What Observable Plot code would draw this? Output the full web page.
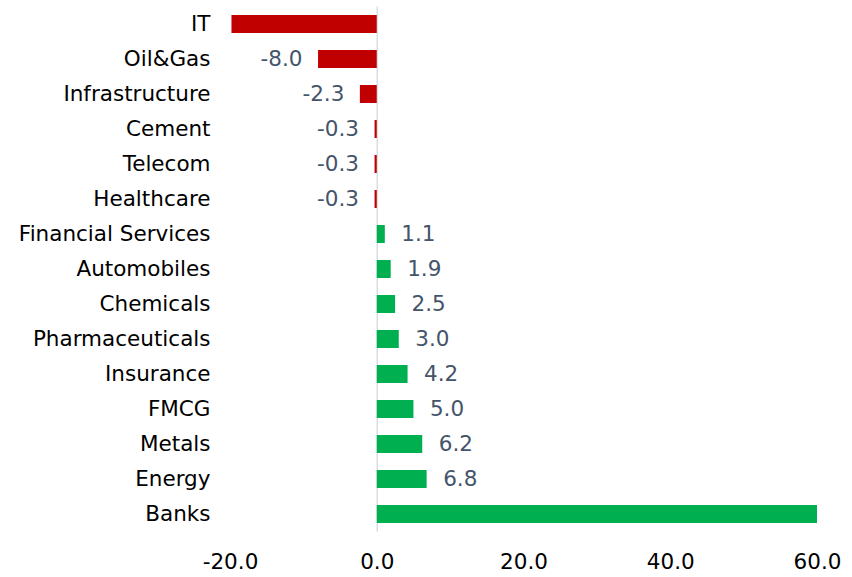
<!DOCTYPE html>
<html>
<head>
<meta charset="utf-8">
<script src="https://cdn.jsdelivr.net/npm/d3@7"></script>
<script src="https://cdn.jsdelivr.net/npm/@observablehq/plot@0.6"></script>
<style>
  html, body { margin: 0; padding: 0; background: #fff; }
  #chart svg { display: block; }
</style>
</head>
<body>
<div id="chart"></div>
<script>
const categories = ["IT","Oil&Gas","Infrastructure","Cement","Telecom","Healthcare","Financial Services","Automobiles","Chemicals","Pharmaceuticals","Insurance","FMCG","Metals","Energy","Banks"];
const values = [-19.8,-8.0,-2.3,-0.3,-0.3,-0.3,1.1,1.9,2.5,3.0,4.2,5.0,6.2,6.8,60.0];
const xTicks = [-20,0,20,40,60];
const xDomain = [-20,60];

const data = categories.map((c, i) => ({cat: c, value: values[i]}));
const labelData = data.filter(d => d.value > xDomain[0] + 1 && d.value < xDomain[1] - 1);
const negLabels = labelData.filter(d => d.value < 0);
const posLabels = labelData.filter(d => d.value >= 0);

const font = "DejaVu Sans";
const fs = 21.5;
const chart = Plot.plot({
  width: 852,
  height: 577,
  marginLeft: 230,
  marginRight: 35,
  marginTop: 6.5,
  marginBottom: 45.5,
  style: {fontFamily: font, fontSize: fs + "px", color: "#000", background: "#fff"},
  x: {domain: xDomain, label: null},
  y: {domain: categories, paddingInner: 0.5, paddingOuter: 0.25, label: null},
  marks: [
    Plot.ruleX([0], {stroke: "#D9DDE5", strokeWidth: 1.5}),
    Plot.barX(data, {x: "value", y: "cat", fill: d => d.value < 0 ? "#C00000" : "#00B050"}),
    Plot.text(negLabels, {
      x: "value", y: "cat", text: d => d.value.toFixed(1),
      textAnchor: "end", dx: -16, fill: "#44546A", fontSize: fs, fontFamily: font
    }),
    Plot.text(posLabels, {
      x: "value", y: "cat", text: d => d.value.toFixed(1),
      textAnchor: "start", dx: 16, fill: "#44546A", fontSize: fs, fontFamily: font
    }),
    Plot.axisX({ticks: xTicks, tickFormat: d => d.toFixed(1), tickSize: 0, tickPadding: 22, fontSize: fs, fill: "#000", label: null}),
    Plot.axisY({tickSize: 0, tickPadding: 20, fontSize: fs, fill: "#000", label: null})
  ]
});
document.getElementById("chart").appendChild(chart);
</script>
</body>
</html>
